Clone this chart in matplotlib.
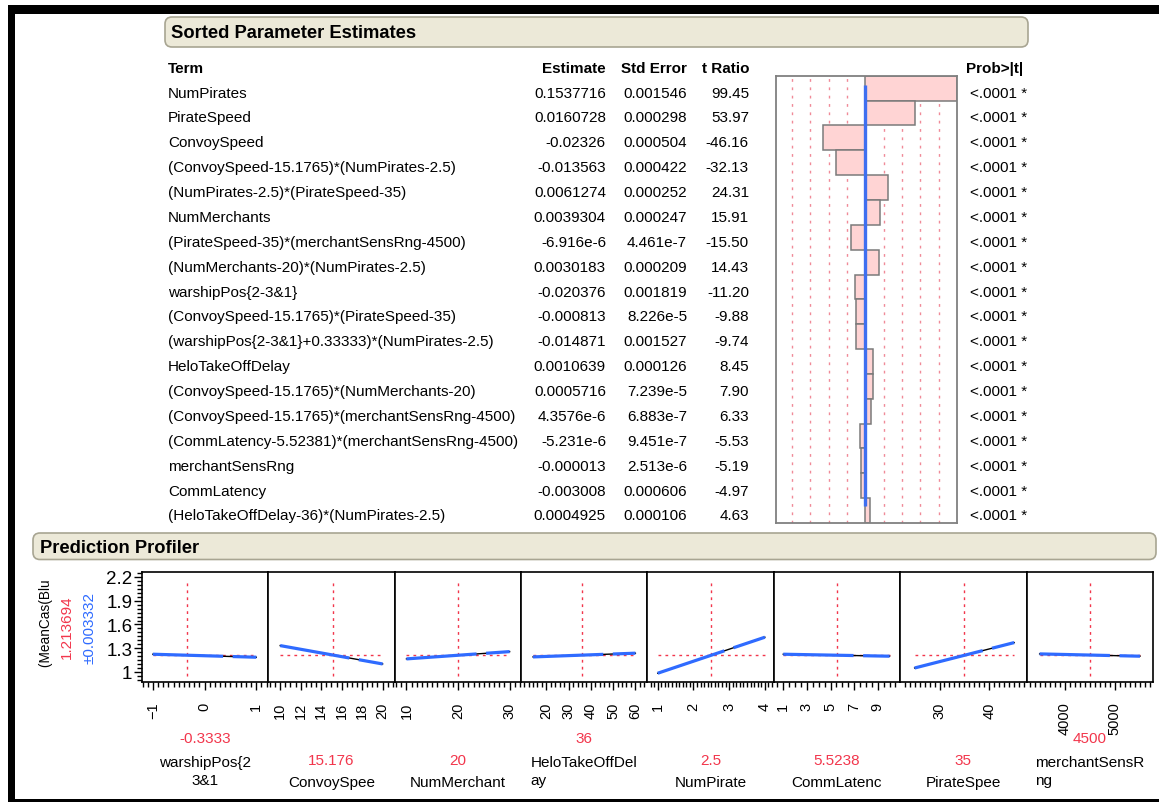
import matplotlib.pyplot as plt
from matplotlib.patches import FancyBboxPatch, Rectangle
from matplotlib.transforms import IdentityTransform
from matplotlib.ticker import MultipleLocator, FixedLocator

plt.rcParams['font.family'] = ['Liberation Sans', 'DejaVu Sans']

W, H = 1159, 803

# ---- Sorted Parameter Estimates table ----
terms = ['NumPirates', 'PirateSpeed', 'ConvoySpeed',
         '(ConvoySpeed-15.1765)*(NumPirates-2.5)',
         '(NumPirates-2.5)*(PirateSpeed-35)', 'NumMerchants',
         '(PirateSpeed-35)*(merchantSensRng-4500)',
         '(NumMerchants-20)*(NumPirates-2.5)', 'warshipPos{2-3&1}',
         '(ConvoySpeed-15.1765)*(PirateSpeed-35)',
         '(warshipPos{2-3&1}+0.33333)*(NumPirates-2.5)', 'HeloTakeOffDelay',
         '(ConvoySpeed-15.1765)*(NumMerchants-20)',
         '(ConvoySpeed-15.1765)*(merchantSensRng-4500)',
         '(CommLatency-5.52381)*(merchantSensRng-4500)', 'merchantSensRng',
         'CommLatency', '(HeloTakeOffDelay-36)*(NumPirates-2.5)']
estimates = ['0.1537716', '0.0160728', '-0.02326', '-0.013563', '0.0061274',
             '0.0039304', '-6.916e-6', '0.0030183', '-0.020376', '-0.000813',
             '-0.014871', '0.0010639', '0.0005716', '4.3576e-6', '-5.231e-6',
             '-0.000013', '-0.003008', '0.0004925']
std_errors = ['0.001546', '0.000298', '0.000504', '0.000422', '0.000252',
              '0.000247', '4.461e-7', '0.000209', '0.001819', '8.226e-5',
              '0.001527', '0.000126', '7.239e-5', '6.883e-7', '9.451e-7',
              '2.513e-6', '0.000606', '0.000106']
t_ratios = [99.45, 53.97, -46.16, -32.13, 24.31, 15.91, -15.50, 14.43, -11.20,
            -9.88, -9.74, 8.45, 7.90, 6.33, -5.53, -5.19, -4.97, 4.63]
probs = ['<.0001 *'] * 18
t_grid = [-80, -60, -40, -20, 20, 40, 60, 80]

# ---- Prediction Profiler ----
factor_names = ['warshipPos{2\n3&1', 'ConvoySpee', 'NumMerchant',
                'HeloTakeOffDel\nay', 'NumPirate', 'CommLatenc', 'PirateSpee',
                'merchantSensR\nng']
name_align = ['center', 'center', 'center', 'left', 'center', 'center',
              'center', 'left']
current_text = ['-0.3333', '15.176', '20', '36', '2.5', '5.5238', '35', '4500']
current_vals = [-0.3333, 15.176, 20, 36, 2.5, 5.5238, 35, 4500]
x_lo = [-1, 10, 10, 14, 1, 1, 25, 3500]
x_hi = [1, 20, 30, 60, 4, 10, 45, 5500]
y_lo = [1.224, 1.333, 1.165, 1.190, 0.984, 1.224, 1.050, 1.228]
y_hi = [1.186, 1.101, 1.257, 1.237, 1.439, 1.199, 1.371, 1.199]
x_ticks = [[-1, 0, 1], [10, 12, 14, 16, 18, 20], [10, 20, 30],
           [20, 30, 40, 50, 60], [1, 2, 3, 4], [1, 3, 5, 7, 9], [30, 40],
           [4000, 5000]]
x_minor = [0.1, 0.5, 1, 2, 0.1, 0.5, 1, 100]
x_lims = [(-1.21, 1.23), (8.83, 21.17), (7.7, 32.2), (8.6, 65.4),
          (0.71, 4.25), (0.2, 10.9), (22.1, 47.5), (3240, 5760)]
pred_value = 1.213694
pred_text = '1.213694'
ci_text = '±0.003332'
y_ticks = [1, 1.3, 1.6, 1.9, 2.2]
y_ticklabels = ['1', '1.3', '1.6', '1.9', '2.2']

RED = '#F2364C'
BLUE = '#2F6BFF'
FS = 11


def fbox(x0, y0, x1, y1):
    return [x0 / W, 1 - y1 / H, (x1 - x0) / W, (y1 - y0) / H]


def ftext(x, y, s, **kw):
    kw.setdefault('fontsize', FS)
    return fig.text(x / W, 1 - y / H, s, **kw)


def header(x0, y0, x1, y1, title, tx):
    p = FancyBboxPatch((x0, H - y1), x1 - x0, y1 - y0,
                       boxstyle='round,pad=0,rounding_size=7',
                       transform=IdentityTransform(),
                       fc='#ECE9D8', ec='#A8A592', lw=1.2)
    fig.add_artist(p)
    ftext(tx, (y0 + y1) / 2 + 1, title, fontsize=13.2, fontweight='bold',
          va='center')


fig = plt.figure(figsize=(W / 100, H / 100), dpi=100)

# screenshot frame
for x0, y0, x1, y1 in [(8, 6, W, 15), (8, 6, 15.5, H), (8, 800, W, H)]:
    fig.add_artist(Rectangle((x0 / W, 1 - y1 / H), (x1 - x0) / W,
                             (y1 - y0) / H, transform=fig.transFigure,
                             fc='black', ec='none'))

header(165, 18, 1028, 48, 'Sorted Parameter Estimates', 171)
header(33, 534, 1156, 560.5, 'Prediction Profiler', 40)

# table header
ftext(168, 69, 'Term', fontweight='bold', va='center')
ftext(606, 69, 'Estimate', fontweight='bold', va='center', ha='right')
ftext(687, 69, 'Std Error', fontweight='bold', va='center', ha='right')
ftext(749, 69, 't Ratio', fontweight='bold', va='center', ha='right')
ftext(966, 69, 'Prob>|t|', fontweight='bold', va='center')

for k in range(len(terms)):
    yy = 93.5 + k * 24.88
    ftext(168, yy, terms[k], va='center')
    ftext(606, yy, estimates[k], va='center', ha='right')
    ftext(687, yy, std_errors[k], va='center', ha='right')
    ftext(749, yy, f'{t_ratios[k]:.2f}', va='center', ha='right')
    ftext(970, yy, probs[k], va='center')

# t ratio bars
axb = fig.add_axes(fbox(775.7, 76.7, 956.7, 524))
for g in t_grid:
    axb.axvline(g, color='#F08A98', lw=1, ls=(0, (2, 4)), zorder=0)
axb.barh(range(len(t_ratios)), t_ratios, height=1.0, color='#FFD4D4',
         edgecolor='#7A7A7A', lw=1.1, zorder=2)
axb.vlines(0, -0.13, 16.83, color='#3F6FF0', lw=2.4, zorder=3)
axb.set_xlim(-97.5, 99.45)
axb.set_ylim(len(t_ratios) - 0.5, -0.5)
axb.set_xticks([])
axb.set_yticks([])
for s in axb.spines.values():
    s.set_color('#808080')
    s.set_linewidth(1.3)

# profiler panels
edges = [142, 268.2, 394.6, 521, 647.4, 773.8, 900.2, 1026.6, 1153]
for i in range(len(factor_names)):
    ax = fig.add_axes(fbox(edges[i], 573, edges[i + 1], 683))
    ax.set_xlim(*x_lims[i])
    ax.set_ylim(0.873, 2.263)
    ax.plot([x_lo[i], x_hi[i]], [pred_value, pred_value], color=RED, lw=1,
            ls=(0, (2, 3)), zorder=1)
    ax.axvline(current_vals[i], ymin=0.055, ymax=0.909, color=RED, lw=1,
               ls=(0, (2, 3)), zorder=1)
    ax.plot([x_lo[i], x_hi[i]], [y_lo[i], y_hi[i]], color='black', lw=1,
            zorder=2)
    ax.plot([x_lo[i], x_hi[i]], [y_lo[i], y_hi[i]], color=BLUE, lw=2.3,
            ls=(0, (22, 3)), zorder=3)
    ax.xaxis.set_major_locator(FixedLocator(x_ticks[i]))
    ax.xaxis.set_minor_locator(MultipleLocator(x_minor[i]))
    ax.tick_params(axis='x', which='major', length=6, width=1,
                   labelrotation=90, labelsize=10.5, pad=8)
    ax.tick_params(axis='x', which='minor', length=3.5, width=1)
    if i == 0:
        ax.set_yticks(y_ticks)
        ax.set_yticklabels(y_ticklabels)
        ax.yaxis.set_minor_locator(MultipleLocator(0.05))
        ax.tick_params(axis='y', which='major', length=6, width=1,
                       labelsize=13.5, pad=1)
        ax.tick_params(axis='y', which='minor', length=3.5, width=1)
    else:
        ax.tick_params(axis='y', which='both', left=False, labelleft=False)
    for s in ax.spines.values():
        s.set_linewidth(1.2)

    cx = (edges[i] + edges[i + 1]) / 2
    two_lines = '\n' in factor_names[i]
    ftext(cx, 739 if two_lines else 761, current_text[i], color=RED,
          ha='center', va='center')
    ftext(cx, 772 if two_lines else 783, factor_names[i], ha='center',
          va='center', multialignment=name_align[i], linespacing=1.45)

# y axis labels of the profiler (clipped like the original)
axl = fig.add_axes(fbox(30, 573, 60, 670))
axl.axis('off')
axl.text(0.5, 0.96, 'Log(MeanCas(Blu', rotation=90, ha='center', va='top',
         fontsize=9.8, transform=axl.transAxes, clip_on=True)
ftext(67, 627, pred_text, color=RED, rotation=90, ha='center', va='center')
ftext(89, 628, ci_text, color=BLUE, rotation=90, ha='center', va='center')

fig.savefig('out.png', dpi=100)
